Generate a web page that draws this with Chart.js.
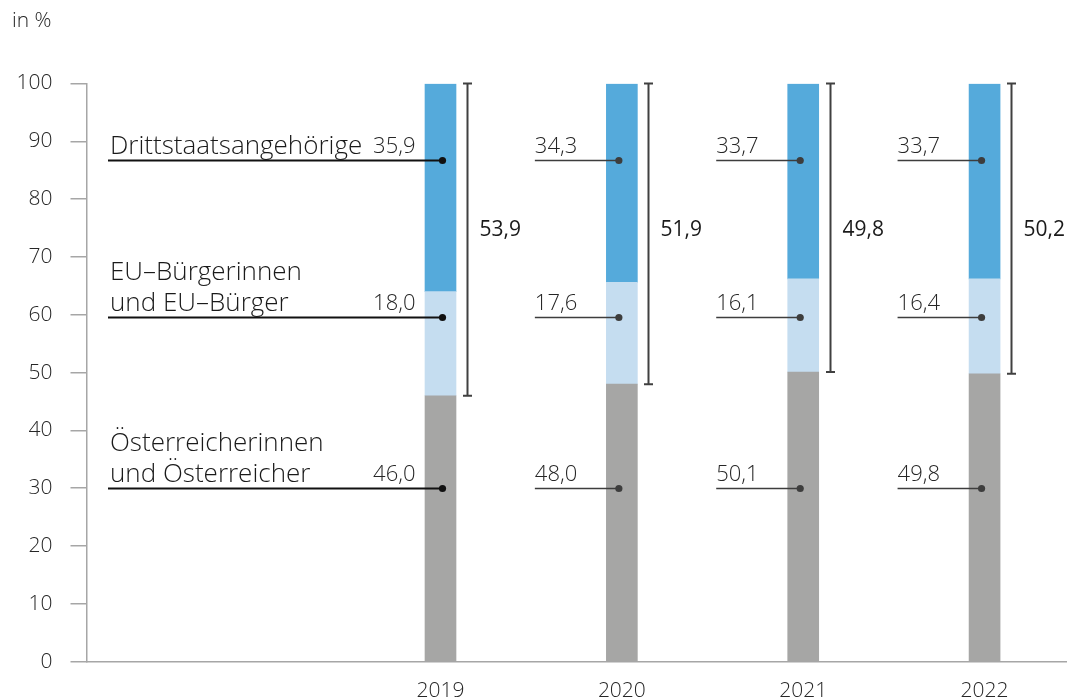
<!DOCTYPE html>
<html>
<head>
<meta charset="utf-8">
<script src="https://cdn.jsdelivr.net/npm/chart.js@4.4.1/dist/chart.umd.min.js"></script>
<style>
  html, body { margin: 0; padding: 0; background: #fff; }
  #wrap { width: 1072px; height: 699px; position: relative; }
</style>
</head>
<body>
<div id="wrap"><canvas id="chart" width="1072" height="699"></canvas></div>
<script>
// Data
const years = ['2019', '2020', '2021', '2022'];
const austrians = [46.0, 48.0, 50.1, 49.8];
const euCitizens = [18.0, 17.6, 16.1, 16.4];
const thirdCountry = [35.9, 34.3, 33.7, 33.7];
const nonAustrianTotal = [53.9, 51.9, 49.8, 50.2];
const seriesNames = [
  ['Österreicherinnen', 'und Österreicher'],
  ['EU–Bürgerinnen', 'und EU–Bürger'],
  ['Drittstaatsangehörige']
];
const yTicks = [0, 10, 20, 30, 40, 50, 60, 70, 80, 90, 100];

// where the value labels sit on the y scale (label anchors, not data)
const labelAnchors = [30.05, 59.6, 86.7];
const bracketLabelAt = 74.7;

const FONT = "'Open Sans', 'DejaVu Sans', sans-serif";
const colors = ['#a6a6a5', '#c5ddf0', '#55aadb'];

const toPoints = arr => arr.map((v, i) => ({ x: i + 1, y: v }));
const fmt = v => v.toFixed(1).replace('.', ',');

const annotations = {
  id: 'annotations',
  afterDatasetsDraw(chart) {
    const c = chart.ctx;
    const xs = chart.scales.x;
    const ys = chart.scales.y;
    const series = [austrians, euCitizens, thirdCountry];

    c.save();
    years.forEach((yr, i) => {
      const cx = xs.getPixelForValue(i + 1);
      const lineCol = i === 0 ? '#111' : '#3d3d3d';

      // leader lines, dots and values
      series.forEach((vals, k) => {
        const py = Math.round(ys.getPixelForValue(labelAnchors[k])) + 0.5;
        const startX = i === 0 ? 108 : cx - 87;
        const dotX = i === 0 ? cx + 2 : cx - 3;
        c.strokeStyle = lineCol;
        c.lineWidth = i === 0 ? 2 : 1.6;
        c.beginPath();
        c.moveTo(startX, py);
        c.lineTo(dotX, py);
        c.stroke();
        c.fillStyle = lineCol;
        c.beginPath();
        c.arc(dotX, py, 3.6, 0, Math.PI * 2);
        c.fill();

        c.fillStyle = '#262626';
        c.font = '300 22px ' + FONT;
        c.textBaseline = 'alphabetic';
        if (i === 0) {
          c.textAlign = 'right';
          c.fillText(fmt(vals[i]), cx - 25, py - 8);
        } else {
          c.textAlign = 'left';
          c.fillText(fmt(vals[i]), startX, py - 8);
        }
      });

      // bracket for non-Austrians
      const bx = Math.round(cx + 26.5) + 0.5;
      const top = ys.getPixelForValue(100);
      const bottom = ys.getPixelForValue(austrians[i]);
      c.strokeStyle = '#404040';
      c.lineWidth = 2;
      c.beginPath();
      c.moveTo(bx, top);
      c.lineTo(bx, bottom);
      c.moveTo(bx - 4.5, top);
      c.lineTo(bx + 4.5, top);
      c.moveTo(bx - 4.5, bottom);
      c.lineTo(bx + 4.5, bottom);
      c.stroke();
      c.fillStyle = '#1a1a1a';
      c.font = '400 21px ' + FONT;
      c.textAlign = 'left';
      c.textBaseline = 'middle';
      c.fillText(fmt(nonAustrianTotal[i]), bx + 12, ys.getPixelForValue(bracketLabelAt));
    });

    // series names on the left
    c.fillStyle = '#1a1a1a';
    c.font = '300 26px ' + FONT;
    c.textAlign = 'left';
    c.textBaseline = 'alphabetic';
    seriesNames.forEach((lines, k) => {
      const py = ys.getPixelForValue(labelAnchors[k]);
      lines.forEach((txt, j) => {
        c.fillText(txt, 110, py - 6 - (lines.length - 1 - j) * 31);
      });
    });

    // unit
    c.fillStyle = '#262626';
    c.font = '300 21px ' + FONT;
    c.fillText('in %', 12, 27);
    c.restore();
  }
};

const chart = new Chart(document.getElementById('chart'), {
  type: 'bar',
  data: {
    datasets: [
      { label: seriesNames[0].join(' '), data: toPoints(austrians), backgroundColor: colors[0] },
      { label: seriesNames[1].join(' '), data: toPoints(euCitizens), backgroundColor: colors[1] },
      { label: seriesNames[2][0], data: toPoints(thirdCountry), backgroundColor: colors[2] }
    ]
  },
  options: {
    responsive: false,
    animation: false,
    barThickness: 31,
    layout: { padding: { top: 83.5, right: 6, left: 0, bottom: 0 } },
    plugins: {
      legend: { display: false },
      tooltip: { enabled: false }
    },
    scales: {
      x: {
        type: 'linear',
        offset: false,
        stacked: true,
        min: -0.952,
        max: 4.449,
        afterBuildTicks: s => { s.ticks = years.map((y, i) => ({ value: i + 1 })); },
        afterFit: s => { s.height = 37.3; },
        grid: { display: false, offset: false },
        border: { display: true, color: '#a6a6a6', width: 1.5 },
        ticks: {
          padding: 9,
          color: '#262626',
          font: { family: FONT, size: 21, weight: 300 },
          callback: v => years[v - 1] || ''
        }
      },
      y: {
        stacked: true,
        min: 0,
        max: 100,
        afterBuildTicks: s => { s.ticks = yTicks.map(v => ({ value: v })); },
        afterFit: s => { s.width = 86.5; },
        grid: { drawOnChartArea: false, drawTicks: true, tickLength: 16, color: '#a6a6a6', lineWidth: 1.5 },
        border: { display: true, color: '#a6a6a6', width: 1.5 },
        ticks: {
          padding: 18,
          color: '#262626',
          font: { family: FONT, size: 21, weight: 300 }
        }
      }
    }
  },
  plugins: [annotations]
});
</script>
</body>
</html>
